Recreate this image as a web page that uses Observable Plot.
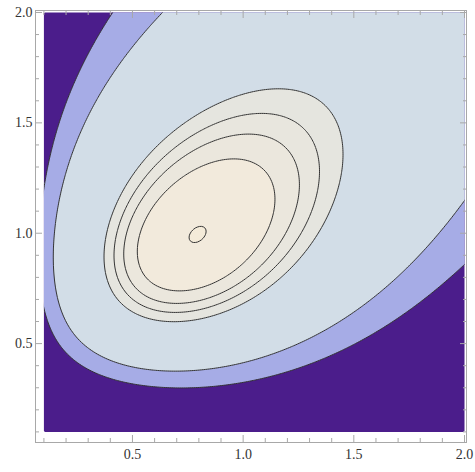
<!DOCTYPE html>
<html><head><meta charset="utf-8">
<script src="https://cdn.jsdelivr.net/npm/d3@7"></script>
<script src="https://cdn.jsdelivr.net/npm/@observablehq/plot@0.6"></script>
<style>body{margin:0;background:#fff}</style>
</head><body><div id="chart"></div>
<script>
// Field: cubic surface in s = sqrt(x) - 0.9, t = ln(y), fitted to the contours
// terms: 1, s, t, s², s·t, t², s³, s²·t, s·t², t³
const fieldCoefficients = [-0.62950, 0.99171, 0.01398, 64.26817, -28.94465, 21.92263, 7.28738, -29.99461, -17.65634, 5.34535];
// contour levels of that field, from the peak outwards
const contourLevels = [-0.6080, 1.0000, 1.9783, 2.8764, 4.0000, 14.9751, 21.6282];
// region colours, from lowest (outside) to highest (peak)
const regionColors = ["#4b1d8b", "#a6ace6", "#d2dde7", "#e5e5df", "#e8e6de", "#ebe7dd", "#f2eadc", "#f4ebd9"];
const plotRange = [0.1, 2];
const majorTicks = [0.5, 1.0, 1.5, 2.0];
const minorTicks = [0.1, 0.2, 0.3, 0.4, 0.6, 0.7, 0.8, 0.9, 1.1, 1.2, 1.3, 1.4, 1.6, 1.7, 1.8, 1.9];

const field = (x, y) => {
  const s = Math.sqrt(x) - 0.9, t = Math.log(y);
  const w = fieldCoefficients;
  const f = w[0] + w[1]*s + w[2]*t + w[3]*s*s + w[4]*s*t + w[5]*t*t
          + w[6]*s*s*s + w[7]*s*s*t + w[8]*s*t*t + w[9]*t*t*t;
  return -f; // higher value at the peak
};
const lineThresholds = contourLevels.map(v => -v).reverse();
const thresholds = [-1e9, ...lineThresholds];

const frameTicks = (ticks, size) => [
  Plot.axisX(ticks, {anchor: "bottom", tickSize: -size, tickFormat: () => "", stroke: "#a8a8a8"}),
  Plot.axisX(ticks, {anchor: "top", tickSize: -size, tickFormat: () => "", stroke: "#a8a8a8"}),
  Plot.axisY(ticks, {anchor: "left", tickSize: -size, tickFormat: () => "", stroke: "#a8a8a8"}),
  Plot.axisY(ticks, {anchor: "right", tickSize: -size, tickFormat: () => "", stroke: "#a8a8a8"})
];

const plot = Plot.plot({
  width: 475, height: 472,
  marginLeft: 35, marginRight: 9, marginTop: 10, marginBottom: 30,
  x: {domain: [0.062, 2.009]},
  y: {domain: [0.052, 2.009]},
  color: {type: "ordinal", domain: thresholds, range: regionColors},
  marks: [
    Plot.contour({fill: field, x1: plotRange[0], x2: plotRange[1], y1: plotRange[0], y2: plotRange[1], thresholds, stroke: "none"}),
    Plot.contour({value: field, x1: 0.03, x2: 2.1, y1: 0.03, y2: 2.1, thresholds: lineThresholds,
      fill: "none", stroke: "#333", strokeWidth: 1, ariaDescription: "lines"}),
    Plot.frame({stroke: "#a8a8a8"}),
    Plot.axisX(majorTicks, {anchor: "bottom", tickSize: 0, tickPadding: 7, tickFormat: d => d.toFixed(1),
      fontSize: 14, fontFamily: "Liberation Serif", color: "#333"}),
    Plot.axisY(majorTicks, {anchor: "left", tickSize: 0, tickPadding: 3, tickFormat: d => d.toFixed(1),
      fontSize: 14, fontFamily: "Liberation Serif", color: "#333"}),
    ...frameTicks(majorTicks, 7),
    ...frameTicks(minorTicks, 4)
  ]
});
document.getElementById("chart").append(plot);

// clip the contour lines to the plotted region
const sx = plot.scale("x"), sy = plot.scale("y");
const svg = d3.select(plot);
svg.append("defs").append("clipPath").attr("id", "dataclip").append("rect")
  .attr("x", sx.apply(plotRange[0])).attr("y", sy.apply(plotRange[1]))
  .attr("width", sx.apply(plotRange[1]) - sx.apply(plotRange[0]))
  .attr("height", sy.apply(plotRange[0]) - sy.apply(plotRange[1]));
svg.select('g[aria-description="lines"]').attr("clip-path", "url(#dataclip)");
</script></body></html>
